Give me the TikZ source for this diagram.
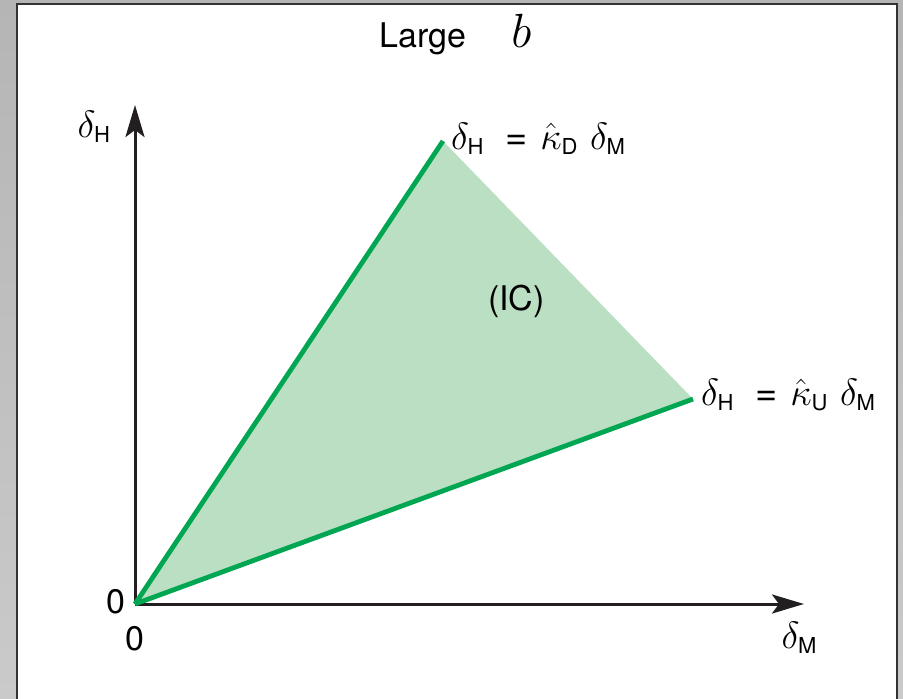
\RequirePackage{fix-cm}
\documentclass[tikz,border=0pt]{standalone}
\usepackage{fontspec}
\setmainfont{TeX Gyre Heros}
\usetikzlibrary{arrows.meta}
\definecolor{bggray}{HTML}{B5B5B5}
\definecolor{bggray2}{HTML}{CACACA}
\definecolor{frame}{HTML}{333333}
\definecolor{axis}{HTML}{231F20}
\definecolor{lgreen}{HTML}{00A651}
\definecolor{fgreen}{HTML}{BADFC2}
\newcommand\sbx[1]{_{\hbox{\fontsize{22}{22}\selectfont #1}}}
\tikzset{
  lbl/.style={font=\fontsize{38}{42}\selectfont, inner sep=0pt},
  txt/.style={font=\fontsize{34}{40}\selectfont, inner sep=0pt},
  axisline/.style={draw=axis, line width=3pt, -{Stealth[length=32pt,width=19pt,inset=7pt]}},
  bound/.style={draw=lgreen, line width=4.8pt},
}
\begin{document}
\begin{tikzpicture}[x=1pt,y=-1pt]
\useasboundingbox (0,0) rectangle (903,699);
\shade[top color=bggray, bottom color=bggray2] (0,0) rectangle (903,699);
\fill[white] (17,4) rectangle (897,705);
\draw[frame, line width=2pt] (17,705) -- (17,4) -- (897,4) -- (897,705);
% points
\coordinate (O) at (135,604);
\coordinate (D) at (443,141);
\coordinate (U) at (693,399);
\coordinate (Ytip) at (135,105);
\coordinate (Xtip) at (804,604);
\fill[fgreen] (O) -- (D) -- (U) -- cycle;
\draw[axisline] (O) -- (Ytip);
\draw[axisline] (O) -- (Xtip);
\draw[bound, line cap=butt] (O) -- (D);
\draw[bound, line cap=butt] (O) -- (U);
% labels
\node[txt, anchor=base west] (title) at (379.5,47.3) {Large\hspace{45pt}{\fontsize{48}{50}\selectfont$b$}};
\node[txt, anchor=base] (ic) at (516.5,310) {(IC)};
\node[lbl, anchor=base west] (ld) at (451,149) {$\delta\sbx{H}$\hspace{21pt}=\hspace{13pt}$\hat{\kappa}\sbx{D}$\hspace{12pt}$\delta\sbx{M}$};
\node[lbl, anchor=base west] (lu) at (701,405) {$\delta\sbx{H}$\hspace{21pt}=\hspace{13pt}$\hat{\kappa}\sbx{U}$\hspace{12pt}$\delta\sbx{M}$};
\node[lbl, anchor=base west] (yl) at (77.5,137) {$\delta\sbx{H}$};
\node[lbl, anchor=base west] (xl) at (781.5,648) {$\delta\sbx{M}$};
\node[txt, anchor=base] (z1) at (116,613) {0};
\node[txt, anchor=base] (z2) at (134.5,650) {0};
\end{tikzpicture}
\end{document}
